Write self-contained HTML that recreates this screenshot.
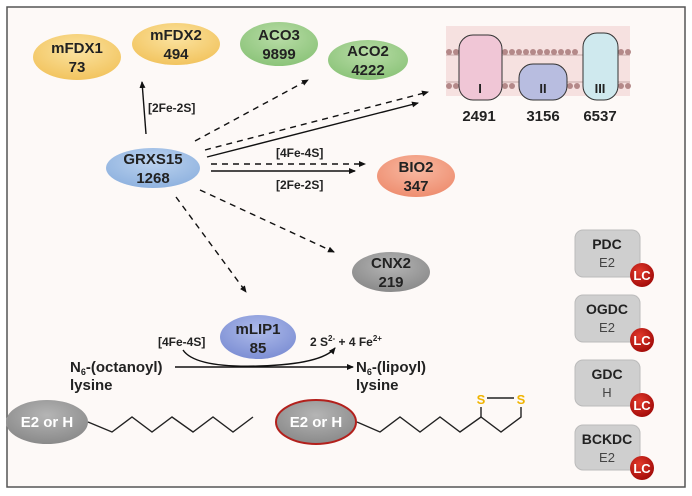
<!DOCTYPE html>
<html><head><meta charset="utf-8"><style>
html,body{margin:0;padding:0;background:#fff;}
svg{display:block;font-family:"Liberation Sans",sans-serif;}
.b{font-weight:bold;fill:#222;}
</style></head><body>
<svg width="692" height="496" viewBox="0 0 692 496" xmlns="http://www.w3.org/2000/svg">
<defs>
<marker id="a" markerWidth="8" markerHeight="8" refX="6" refY="3" orient="auto" markerUnits="userSpaceOnUse"><path d="M0,0 L7,3 L0,6 z" fill="#111"/></marker>
<radialGradient id="gy" cx="50%" cy="35%" r="65%"><stop offset="0" stop-color="#fbe3a0"/><stop offset="1" stop-color="#f2c45f"/></radialGradient>
<radialGradient id="gg" cx="50%" cy="35%" r="65%"><stop offset="0" stop-color="#b8dca6"/><stop offset="1" stop-color="#8cc47a"/></radialGradient>
<radialGradient id="gb" cx="50%" cy="35%" r="65%"><stop offset="0" stop-color="#bcd3ef"/><stop offset="1" stop-color="#8fb2df"/></radialGradient>
<radialGradient id="gm" cx="50%" cy="35%" r="65%"><stop offset="0" stop-color="#aebbea"/><stop offset="1" stop-color="#7d8fd4"/></radialGradient>
<radialGradient id="go" cx="50%" cy="35%" r="65%"><stop offset="0" stop-color="#f8b9a2"/><stop offset="1" stop-color="#ee8e70"/></radialGradient>
<radialGradient id="gc" cx="50%" cy="35%" r="65%"><stop offset="0" stop-color="#b5b5b5"/><stop offset="1" stop-color="#8a8a8a"/></radialGradient>
<radialGradient id="gr" cx="40%" cy="35%" r="65%"><stop offset="0" stop-color="#e23a2c"/><stop offset="1" stop-color="#a50d0a"/></radialGradient>
</defs>
<rect x="0" y="0" width="692" height="496" fill="#fff"/>
<rect x="7" y="7" width="678" height="480" fill="#fdf9f7" stroke="#555" stroke-width="1.5"/>

<!-- membrane -->
<rect x="446" y="26" width="184" height="70" fill="#f6e1e0"/>
<g stroke="#b49393" stroke-width="0.8">
<path d="M446,55 H630 M446,82 H630"/>
</g>
<g fill="#b48989">
<circle cx="449" cy="52" r="3"/><circle cx="456" cy="52" r="3"/><circle cx="505" cy="52" r="3"/><circle cx="512" cy="52" r="3"/><circle cx="519" cy="52" r="3"/><circle cx="526" cy="52" r="3"/><circle cx="533" cy="52" r="3"/><circle cx="540" cy="52" r="3"/><circle cx="547" cy="52" r="3"/><circle cx="554" cy="52" r="3"/><circle cx="561" cy="52" r="3"/><circle cx="568" cy="52" r="3"/><circle cx="575" cy="52" r="3"/><circle cx="621" cy="52" r="3"/><circle cx="628" cy="52" r="3"/>
<circle cx="449" cy="86" r="3"/><circle cx="456" cy="86" r="3"/><circle cx="505" cy="86" r="3"/><circle cx="512" cy="86" r="3"/><circle cx="570" cy="86" r="3"/><circle cx="577" cy="86" r="3"/><circle cx="621" cy="86" r="3"/><circle cx="628" cy="86" r="3"/>
</g>
<rect x="459" y="35" width="43" height="65" rx="14" fill="#f0c6d6" stroke="#333" stroke-width="1"/>
<rect x="519" y="64" width="48" height="36" rx="14" fill="#b8bde0" stroke="#333" stroke-width="1"/>
<rect x="583" y="33" width="35" height="67" rx="14" fill="#cfe9ee" stroke="#333" stroke-width="1"/>
<text x="480" y="93" class="b" font-size="13" text-anchor="middle">I</text>
<text x="543" y="93" class="b" font-size="13" text-anchor="middle">II</text>
<text x="600" y="93" class="b" font-size="13" text-anchor="middle">III</text>
<text x="479" y="121" class="b" font-size="15" text-anchor="middle">2491</text>
<text x="543" y="121" class="b" font-size="15" text-anchor="middle">3156</text>
<text x="600" y="121" class="b" font-size="15" text-anchor="middle">6537</text>

<!-- arrows -->
<g stroke="#111" stroke-width="1.4" fill="none">
<line x1="146" y1="134" x2="142" y2="82" marker-end="url(#a)"/>
<line x1="195" y1="141" x2="308" y2="80" stroke-dasharray="6,5" marker-end="url(#a)"/>
<line x1="205" y1="150" x2="428" y2="92" stroke-dasharray="6,5" marker-end="url(#a)"/>
<line x1="207" y1="157" x2="418" y2="103" marker-end="url(#a)"/>
<line x1="211" y1="164" x2="365" y2="164" stroke-dasharray="6,5" marker-end="url(#a)"/>
<line x1="211" y1="171" x2="355" y2="171" marker-end="url(#a)"/>
<line x1="200" y1="190" x2="334" y2="252" stroke-dasharray="6,5" marker-end="url(#a)"/>
<line x1="176" y1="197" x2="246" y2="292" stroke-dasharray="6,5" marker-end="url(#a)"/>
<line x1="175" y1="367" x2="353" y2="367" marker-end="url(#a)"/>
<path d="M183,350 Q195,368 260,366 Q322,364 335,348" marker-end="url(#a)"/>
</g>
<text x="148" y="112" class="b" font-size="12">[2Fe-2S]</text>
<text x="276" y="157" class="b" font-size="12">[4Fe-4S]</text>
<text x="276" y="189" class="b" font-size="12">[2Fe-2S]</text>

<!-- nodes -->
<ellipse cx="77" cy="57" rx="44" ry="23" fill="url(#gy)"/>
<text x="77" y="53" class="b" font-size="15" text-anchor="middle">mFDX1</text>
<text x="77" y="72" class="b" font-size="15" text-anchor="middle">73</text>
<ellipse cx="176" cy="44" rx="44" ry="21" fill="url(#gy)"/>
<text x="176" y="40" class="b" font-size="15" text-anchor="middle">mFDX2</text>
<text x="176" y="59" class="b" font-size="15" text-anchor="middle">494</text>
<ellipse cx="279" cy="44" rx="39" ry="22" fill="url(#gg)"/>
<text x="279" y="40" class="b" font-size="15" text-anchor="middle">ACO3</text>
<text x="279" y="59" class="b" font-size="15" text-anchor="middle">9899</text>
<ellipse cx="368" cy="60" rx="40" ry="20" fill="url(#gg)"/>
<text x="368" y="56" class="b" font-size="15" text-anchor="middle">ACO2</text>
<text x="368" y="75" class="b" font-size="15" text-anchor="middle">4222</text>
<ellipse cx="153" cy="168" rx="47" ry="20" fill="url(#gb)"/>
<text x="153" y="164" class="b" font-size="15" text-anchor="middle">GRXS15</text>
<text x="153" y="183" class="b" font-size="15" text-anchor="middle">1268</text>
<ellipse cx="416" cy="176" rx="39" ry="21" fill="url(#go)"/>
<text x="416" y="172" class="b" font-size="15" text-anchor="middle">BIO2</text>
<text x="416" y="191" class="b" font-size="15" text-anchor="middle">347</text>
<ellipse cx="391" cy="272" rx="39" ry="20" fill="url(#gc)"/>
<text x="391" y="268" class="b" font-size="15" text-anchor="middle">CNX2</text>
<text x="391" y="287" class="b" font-size="15" text-anchor="middle">219</text>
<ellipse cx="258" cy="337" rx="38" ry="22" fill="url(#gm)"/>
<text x="258" y="334" class="b" font-size="15" text-anchor="middle">mLIP1</text>
<text x="258" y="353" class="b" font-size="15" text-anchor="middle">85</text>

<text x="158" y="346" class="b" font-size="12">[4Fe-4S]</text>
<text x="310" y="346" class="b" font-size="12">2 S<tspan font-size="8" dy="-5">2-</tspan><tspan dy="5"> + 4 Fe</tspan><tspan font-size="8" dy="-5">2+</tspan></text>
<text x="70" y="372" class="b" font-size="15">N<tspan font-size="9" dy="3">6</tspan><tspan dy="-3">-(octanoyl)</tspan></text>
<text x="70" y="390" class="b" font-size="15">lysine</text>
<text x="356" y="372" class="b" font-size="15">N<tspan font-size="9" dy="3">6</tspan><tspan dy="-3">-(lipoyl)</tspan></text>
<text x="356" y="390" class="b" font-size="15">lysine</text>

<!-- chains -->
<ellipse cx="47" cy="422" rx="41" ry="22" fill="url(#gc)"/>
<text x="47" y="427" font-size="15" font-weight="bold" fill="#fff" text-anchor="middle">E2 or H</text>
<polyline points="88,422 112,432 132,417 152,432 172,417 193,432 213,417 233,432 253,417" fill="none" stroke="#222" stroke-width="1.4"/>
<ellipse cx="316" cy="422" rx="40" ry="22" fill="url(#gc)" stroke="#b3201c" stroke-width="2"/>
<text x="316" y="427" font-size="15" font-weight="bold" fill="#fff" text-anchor="middle">E2 or H</text>
<polyline points="357,422 380,432 400,417 420,432 440,417 460,432 481,417 501,432 521,417 521,407" fill="none" stroke="#222" stroke-width="1.4"/>
<line x1="481" y1="417" x2="481" y2="407" stroke="#222" stroke-width="1.4"/>
<line x1="487" y1="398" x2="514" y2="398" stroke="#222" stroke-width="1.4"/>
<text x="481" y="404" font-size="13" font-weight="bold" fill="#f0b400" text-anchor="middle">S</text>
<text x="521" y="404" font-size="13" font-weight="bold" fill="#f0b400" text-anchor="middle">S</text>

<!-- complexes -->
<g>
<rect x="575" y="230" width="65" height="47" rx="8" fill="#cfcfcf" stroke="#bbb"/>
<text x="607" y="249" class="b" font-size="14" text-anchor="middle">PDC</text>
<text x="607" y="267" font-size="13" fill="#444" text-anchor="middle">E2</text>
<circle cx="642" cy="275" r="12" fill="url(#gr)"/><text x="642" y="280" font-size="13" font-weight="bold" fill="#fff" text-anchor="middle">LC</text>

<rect x="575" y="295" width="65" height="47" rx="8" fill="#cfcfcf" stroke="#bbb"/>
<text x="607" y="314" class="b" font-size="14" text-anchor="middle">OGDC</text>
<text x="607" y="332" font-size="13" fill="#444" text-anchor="middle">E2</text>
<circle cx="642" cy="340" r="12" fill="url(#gr)"/><text x="642" y="345" font-size="13" font-weight="bold" fill="#fff" text-anchor="middle">LC</text>

<rect x="575" y="360" width="65" height="46" rx="8" fill="#cfcfcf" stroke="#bbb"/>
<text x="607" y="379" class="b" font-size="14" text-anchor="middle">GDC</text>
<text x="607" y="397" font-size="13" fill="#444" text-anchor="middle">H</text>
<circle cx="642" cy="405" r="12" fill="url(#gr)"/><text x="642" y="410" font-size="13" font-weight="bold" fill="#fff" text-anchor="middle">LC</text>

<rect x="575" y="425" width="65" height="45" rx="8" fill="#cfcfcf" stroke="#bbb"/>
<text x="607" y="444" class="b" font-size="14" text-anchor="middle">BCKDC</text>
<text x="607" y="462" font-size="13" fill="#444" text-anchor="middle">E2</text>
<circle cx="642" cy="468" r="12" fill="url(#gr)"/><text x="642" y="473" font-size="13" font-weight="bold" fill="#fff" text-anchor="middle">LC</text>
</g>
</svg>
</body></html>
